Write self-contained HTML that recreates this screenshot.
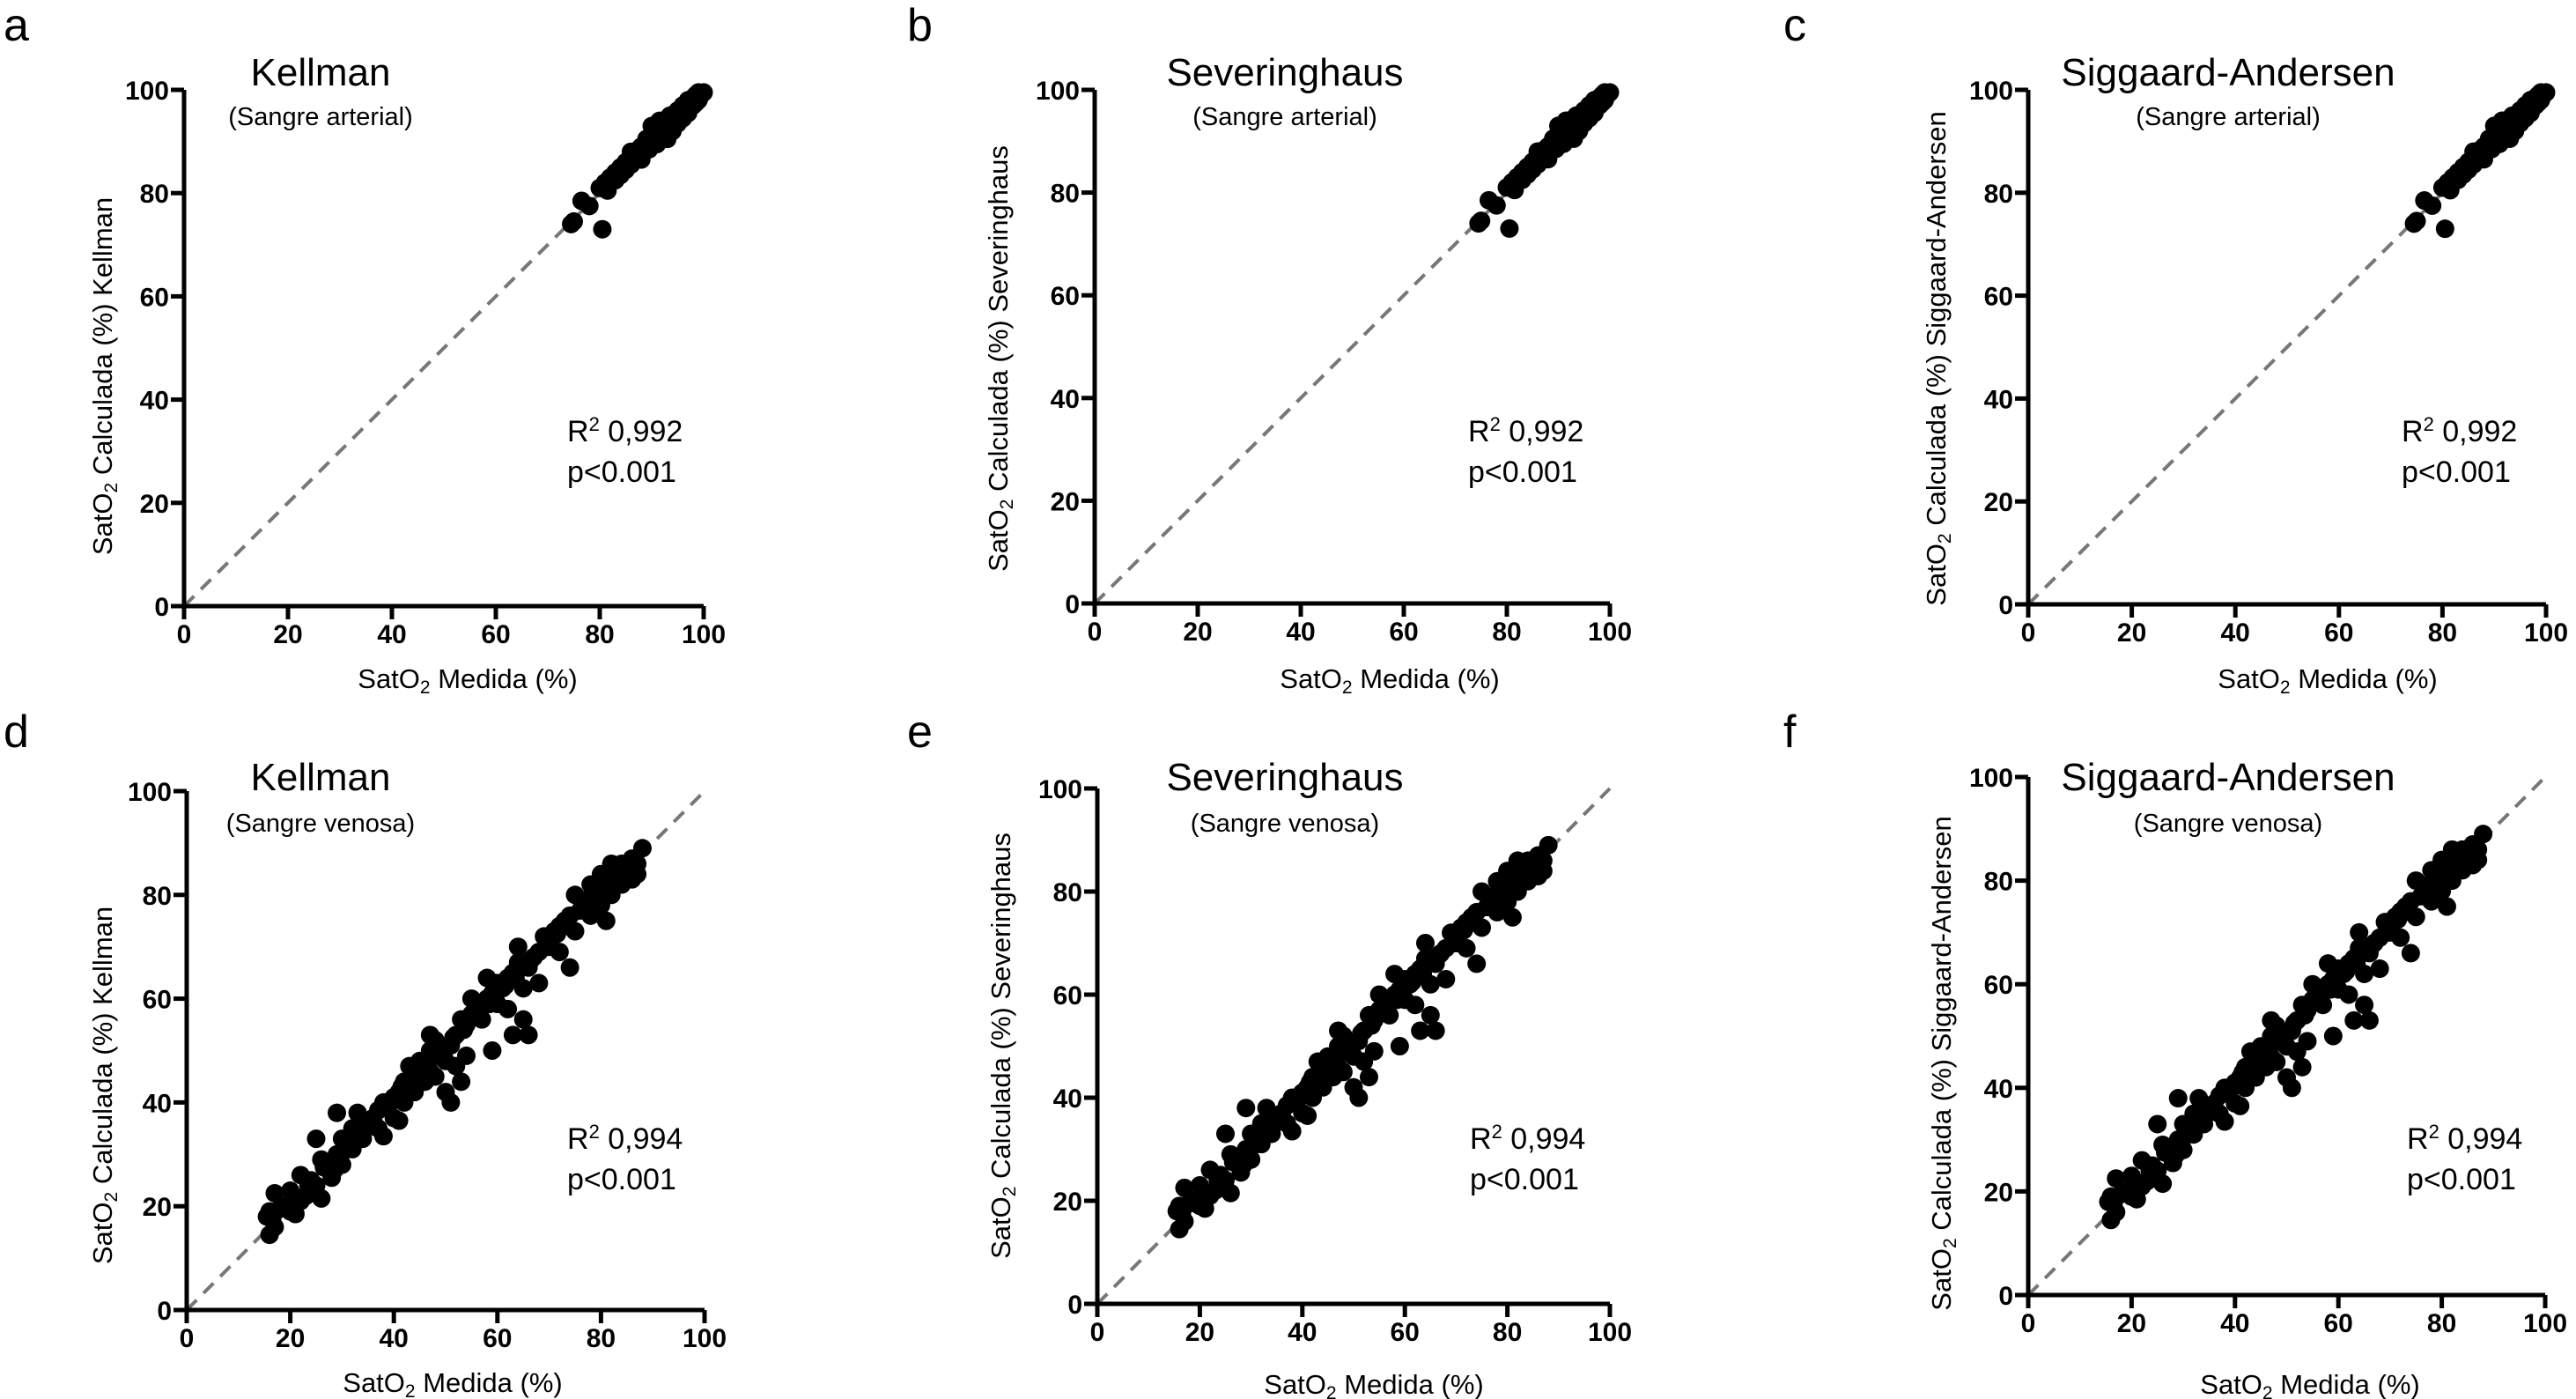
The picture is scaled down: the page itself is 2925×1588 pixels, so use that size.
<!DOCTYPE html>
<html><head><meta charset="utf-8"><style>
html,body{margin:0;padding:0;background:#fff;}
svg{display:block;}
text{font-family:"Liberation Sans",Arial,sans-serif;}
.tick{font-weight:bold;font-size:30px;fill:#000;}
.title{font-size:44px;fill:#000;}
.sub{font-size:29px;fill:#000;}
.stat{font-size:34px;fill:#000;}
.axlab{font-size:31px;fill:#000;}
.letter{font-size:52px;fill:#000;}
</style></head><body>
<svg id="fig" width="2925" height="1588" viewBox="0 0 2925 1588" xmlns="http://www.w3.org/2000/svg"></svg>
<script>
const tickValues = [0, 20, 40, 60, 80, 100];
const arterialMeasured = [74.5,75,76.5,78,80.5,80,81,82,83,84,85,85,86,87,87.5,88,88.5,89,89.5,90,90,91,91,91.5,92,92.5,93,93,93.5,94,94.5,95,95,95.5,96,96,96.5,97,97,97.5,98,98,98.5,99,99,99.5,100,92,90,86,84,88,81.5,83,86.5,89,90.5,92,94,95.5,97,98.5,93,91,96,99];
const arterialCalculated = [74,74.5,78.5,77.5,73,81,82,83,82.5,85,84.5,86,88,87,88.5,86.5,88,90,88.5,91,93,89.5,92,94,91,92.5,93.5,90.5,95,93,94.5,96,93.5,95,96.5,94.5,97,96,98,97,98.5,97,99,98.5,99.5,99,99.5,93,90,85.5,83.5,89,80.5,84,87,90.5,89.5,94,92,96,95.5,97.5,92,93,97,98];
const venousMeasured = [16,15.5,16,17,17,16.5,19,20,20,21,22,22,23,24,25,25,26,26,27,28,28.5,29,29,30,30,31,32,32,33,34,34,35,36,37,37,38,38,39,40,40,41,41,42,42,43,43,44,44,45,45,46,46,47,47,47,48,48,48,49,50,50,51,51,52,52,53,53,54,54,55,55,56,57,57,58,58,59,59,60,60,61,62,62,63,63,64,64,65,65,66,66,67,68,68,69,70,70,71,72,72,73,74,74,75,75,76,77,78,78,79,80,80,81,81,82,82,83,84,84,85,86,86,87,88,87,18,21,23.5,26.5,31,33.5,35.5,39,41.5,44.5,46.5,49.5,51.5,53.5,56.5,58.5,61.5,63.5,66.5,69.5,71.5,73.5,76.5,79.5,82.5,85.5,77,83,64.5,60.5];
const venousCalculated = [19,18,14.5,16,22.5,17.5,20,23,19,18.5,26,21,22,25,24,33,21.5,29,28.5,25.5,27,30,38,33,28,32,35,31,38,34,33,36,37,38.5,35,33.5,40,40,41,37,36.5,42,44,40,47,43,46,42,48,45,47,44,46,50,53,49,52,45,50,48,42,51,40,53,47,44,56,55,49,60,57,58,59,56,64,60,61,50,59,63,62,64,58,65,53,67,70,62,56,53,66,68,69,63,72,71,70,73,69,74,75,76,66,73,80,77,78,76,82,81,78,84,82,75,80,86,84,82,86,85,83,87,86,89,84,19.5,21.5,24,27.5,31,34.5,36,39.5,43,45,47.5,50,52.5,54,57.5,59,62.5,64,67.5,70,72.5,74,77.5,80,83.5,86,79,85,66.5,62];

const panels = [
 {id:'a', x0:209, x1:799, y0:688, y1:102, title:'Kellman', sub:'(Sangre arterial)', method:'Kellman', r2:'0,992', tcx:364, tby:97, sby:142, sx:644, sy:501, xlx:531, xly:781, ylx:116, yly:427, lx:4, ly:46, kind:'art'},
 {id:'b', x0:1243, x1:1828, y0:685, y1:102, title:'Severinghaus', sub:'(Sangre arterial)', method:'Severinghaus', r2:'0,992', tcx:1459, tby:97, sby:142, sx:1667, sy:501, xlx:1578, xly:781, ylx:1133, yly:407, lx:1030, ly:46, kind:'art'},
 {id:'c', x0:2303, x1:2891, y0:686, y1:102, title:'Siggaard-Andersen', sub:'(Sangre arterial)', method:'Siggaard-Andersen', r2:'0,992', tcx:2530, tby:97, sby:142, sx:2727, sy:501, xlx:2643, xly:781, ylx:2198, yly:407, lx:2025, ly:46, kind:'art'},
 {id:'d', x0:212, x1:800, y0:1487, y1:898, title:'Kellman', sub:'(Sangre venosa)', method:'Kellman', r2:'0,994', tcx:364, tby:897, sby:944, sx:644, sy:1304, xlx:514, xly:1580, ylx:116, yly:1232, lx:4, ly:848, kind:'ven'},
 {id:'e', x0:1246, x1:1828, y0:1480, y1:895, title:'Severinghaus', sub:'(Sangre venosa)', method:'Severinghaus', r2:'0,994', tcx:1459, tby:897, sby:944, sx:1669, sy:1304, xlx:1560, xly:1582, ylx:1136, yly:1187, lx:1030, ly:848, kind:'ven'},
 {id:'f', x0:2303, x1:2890, y0:1470, y1:882, title:'Siggaard-Andersen', sub:'(Sangre venosa)', method:'Siggaard-Andersen', r2:'0,994', tcx:2530, tby:897, sby:944, sx:2733, sy:1304, xlx:2623, xly:1582, ylx:2204, yly:1207, lx:2025, ly:848, kind:'ven'}
];

const NS = 'http://www.w3.org/2000/svg';
const fig = document.getElementById('fig');
function mk(tag, attrs, parent){
  const e = document.createElementNS(NS, tag);
  for (const k in attrs) e.setAttribute(k, attrs[k]);
  parent.appendChild(e);
  return e;
}

panels.forEach(p => {
  const sx = v => p.x0 + (p.x1 - p.x0) * v / 100;
  const sy = v => p.y0 + (p.y1 - p.y0) * v / 100;
  const g = mk('g', {}, fig);
  
  

  const letter = mk('text', {x:p.lx, y:p.ly, class:'letter'}, g);
  letter.textContent = p.id;
  
  

  const idl = mk('line', {x1:sx(0), y1:sy(0), x2:sx(100), y2:sy(100), stroke:'#777', 'stroke-width':4, 'stroke-dasharray':'16 11'}, g);
  
  

  const xs = p.kind === 'art' ? arterialMeasured : venousMeasured;
  const ys = p.kind === 'art' ? arterialCalculated : venousCalculated;
  const pg = mk('g', {fill:'#000'}, g);
  
  
  xs.forEach((v, i) => {
    const c = mk('circle', {cx:sx(v), cy:sy(ys[i]), r:10.5}, pg);
    
    
  });

  const ax = mk('path', {d:`M${sx(0)} ${sy(100)} V${sy(0)} H${sx(100)}`, fill:'none', stroke:'#000', 'stroke-width':5}, g);
  
  

  tickValues.forEach(t => {
    const tx = mk('line', {x1:sx(t), y1:sy(0), x2:sx(t), y2:sy(0)+15, stroke:'#000', 'stroke-width':5}, g);
    
    
    const lx = mk('text', {x:sx(t), y:sy(0)+42, class:'tick', 'text-anchor':'middle'}, g);
    lx.textContent = t;
    
    
    const ty = mk('line', {x1:sx(0)-15, y1:sy(t), x2:sx(0), y2:sy(t), stroke:'#000', 'stroke-width':5}, g);
    
    
    const ly = mk('text', {x:sx(0)-17, y:sy(t)+11, class:'tick', 'text-anchor':'end'}, g);
    ly.textContent = t;
    
    
  });

  const tt = mk('text', {x:p.tcx, y:p.tby, class:'title', 'text-anchor':'middle'}, g);
  tt.textContent = p.title;
  
  
  const st = mk('text', {x:p.tcx, y:p.sby, class:'sub', 'text-anchor':'middle'}, g);
  st.textContent = p.sub;
  
  

  const r2 = mk('text', {x:p.sx, y:p.sy, class:'stat'}, g);
  r2.innerHTML = 'R<tspan dy="-12" font-size="22">2</tspan><tspan dy="12"> ' + p.r2 + '</tspan>';
  
  
  const pv = mk('text', {x:p.sx, y:p.sy+46, class:'stat'}, g);
  pv.textContent = 'p<0.001';
  
  

  const xl = mk('text', {x:p.xlx, y:p.xly, class:'axlab', 'text-anchor':'middle'}, g);
  xl.innerHTML = 'SatO<tspan dy="6" font-size="21">2</tspan><tspan dy="-6"> Medida (%)</tspan>';
  
  

  const yl = mk('text', {x:0, y:0, class:'axlab', 'text-anchor':'middle', transform:`translate(${p.ylx + 11},${p.yly}) rotate(-90)`}, g);
  yl.innerHTML = 'SatO<tspan dy="6" font-size="21">2</tspan><tspan dy="-6"> Calculada (%) ' + p.method + '</tspan>';
  
  
});
</script>
</body></html>
